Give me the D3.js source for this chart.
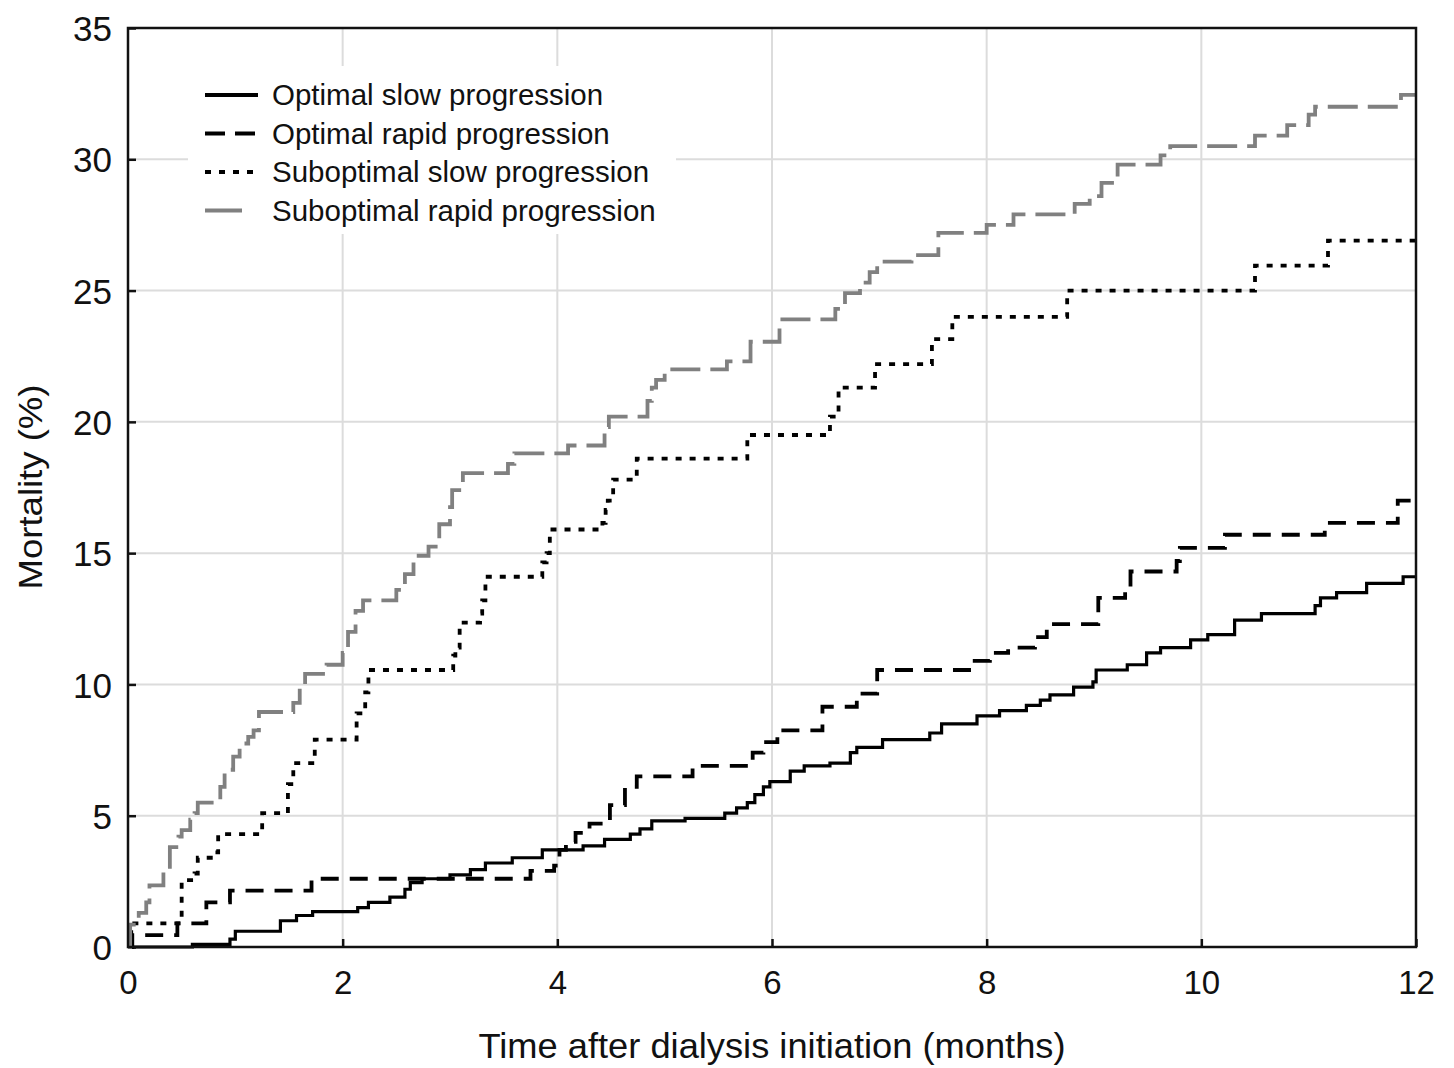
<!DOCTYPE html>
<html>
<head>
<meta charset="utf-8">
<script src="https://cdn.jsdelivr.net/npm/d3@7"></script>
<style>
  body { margin: 0; background: #fff; }
  text { font-family: "Liberation Sans", Arial, sans-serif; fill: #111; }
</style>
</head>
<body>
<svg id="chart" width="1454" height="1068"></svg>
<script>
// step data: [months, mortality %]
const optimalSlow = [[0,0],[0.6,0.1],[0.95,0.3],[1.0,0.6],[1.42,1.0],[1.57,1.2],[1.72,1.35],[2.14,1.5],[2.24,1.7],[2.44,1.9],[2.58,2.2],[2.63,2.45],[2.74,2.6],[3.0,2.75],[3.19,2.95],[3.33,3.2],[3.58,3.4],[3.86,3.7],[4.24,3.85],[4.44,4.1],[4.68,4.3],[4.77,4.5],[4.88,4.8],[5.19,4.9],[5.56,5.1],[5.67,5.3],[5.77,5.5],[5.84,5.8],[5.92,6.1],[5.98,6.3],[6.17,6.7],[6.3,6.9],[6.54,7.0],[6.73,7.4],[6.79,7.6],[7.03,7.9],[7.47,8.15],[7.58,8.5],[7.91,8.8],[8.12,9.0],[8.37,9.2],[8.5,9.4],[8.59,9.6],[8.81,9.9],[8.99,10.1],[9.02,10.55],[9.31,10.75],[9.49,11.2],[9.62,11.4],[9.9,11.7],[10.06,11.9],[10.31,12.45],[10.56,12.7],[11.06,13.0],[11.11,13.3],[11.26,13.5],[11.54,13.85],[11.88,14.1],[12,14.1]];

const optimalRapid = [[0,0],[0.04,0.45],[0.46,0.9],[0.73,1.7],[0.95,2.15],[1.71,2.6],[3.75,2.9],[3.97,3.1],[4.02,3.7],[4.08,4.0],[4.17,4.35],[4.3,4.7],[4.49,5.4],[4.63,6.1],[4.74,6.5],[5.26,6.9],[5.82,7.4],[5.92,7.8],[6.05,8.25],[6.47,9.15],[6.79,9.65],[6.98,10.55],[7.86,10.9],[8.03,11.2],[8.2,11.4],[8.45,11.8],[8.56,12.3],[9.04,13.3],[9.29,13.7],[9.34,14.3],[9.77,14.7],[9.8,15.2],[10.22,15.7],[11.15,16.15],[11.83,17.0],[11.95,17.2],[12,17.2]];

const suboptimalSlow = [[0,0],[0.03,0.9],[0.5,2.55],[0.62,2.8],[0.65,3.4],[0.8,3.6],[0.84,4.3],[1.25,5.1],[1.49,6.2],[1.54,7.0],[1.74,7.9],[2.13,8.9],[2.21,9.7],[2.24,10.55],[3.03,11.1],[3.05,11.4],[3.09,12.35],[3.28,12.7],[3.3,13.2],[3.33,14.1],[3.86,14.65],[3.9,15.0],[3.93,15.9],[4.42,16.15],[4.45,16.65],[4.47,17.0],[4.52,17.8],[4.74,18.6],[5.77,19.5],[6.54,20.2],[6.62,21.3],[6.96,22.2],[7.49,23.15],[7.68,24.0],[8.75,25.0],[10.5,25.95],[11.18,26.9],[12,26.9]];

const suboptimalRapid = [[0,0],[0.02,0.85],[0.1,1.3],[0.17,1.7],[0.2,2.35],[0.33,2.9],[0.39,3.8],[0.47,4.2],[0.5,4.45],[0.58,4.85],[0.62,5.1],[0.65,5.5],[0.86,6.1],[0.9,6.75],[0.98,7.25],[1.04,7.75],[1.12,8.0],[1.17,8.25],[1.22,8.95],[1.54,9.3],[1.6,10.0],[1.65,10.4],[1.85,10.75],[2.0,11.2],[2.05,12.0],[2.12,12.8],[2.19,13.2],[2.5,13.6],[2.58,14.2],[2.66,14.9],[2.8,15.25],[2.9,16.1],[3.0,16.75],[3.02,17.4],[3.12,18.05],[3.54,18.4],[3.6,18.8],[4.1,19.1],[4.44,19.8],[4.48,20.2],[4.84,20.8],[4.88,21.3],[4.92,21.6],[5.0,22.0],[5.58,22.3],[5.8,23.05],[6.07,23.9],[6.59,24.3],[6.68,24.9],[6.82,25.3],[6.91,25.7],[6.98,26.1],[7.3,26.35],[7.55,27.2],[8.0,27.5],[8.25,27.9],[8.82,28.3],[8.96,28.6],[9.07,29.1],[9.22,29.8],[9.62,30.15],[9.71,30.5],[10.5,30.9],[10.8,31.3],[11.0,31.7],[11.06,32.0],[11.86,32.45],[12,32.45]];

const seriesNames = ['Optimal slow progression', 'Optimal rapid progression', 'Suboptimal slow progression', 'Suboptimal rapid progression'];
const xTicks = [0, 2, 4, 6, 8, 10, 12];
const yTicks = [0, 5, 10, 15, 20, 25, 30, 35];

const svg = d3.select('#chart');
const margin = { left: 128, top: 28, right: 38, bottom: 121 };
const width = 1454 - margin.left - margin.right;
const height = 1068 - margin.top - margin.bottom;

const g = svg.append('g').attr('transform', `translate(${margin.left},${margin.top})`);

const x = d3.scaleLinear().domain([0, 12]).range([0, width]);
const y = d3.scaleLinear().domain([0, 35]).range([height, 0]);

// grid
g.append('g')
  .selectAll('line.vg')
  .data(xTicks.slice(1, -1))
  .enter().append('line')
  .attr('x1', d => x(d)).attr('x2', d => x(d))
  .attr('y1', 0).attr('y2', height)
  .attr('stroke', '#dcdcdc').attr('stroke-width', 2);

g.append('g')
  .selectAll('line.hg')
  .data(yTicks.slice(1, -1))
  .enter().append('line')
  .attr('x1', 0).attr('x2', width)
  .attr('y1', d => y(d)).attr('y2', d => y(d))
  .attr('stroke', '#dcdcdc').attr('stroke-width', 2);

// legend background hides the grid behind it
g.append('rect')
  .attr('x', 60).attr('y', 38)
  .attr('width', 488).attr('height', 168)
  .attr('fill', '#fff');

// axes
const xAxis = d3.axisBottom(x).tickValues(xTicks).tickSize(-8).tickPadding(24);
const yAxis = d3.axisLeft(y).tickValues(yTicks).tickSize(-8).tickPadding(16);

const gx = g.append('g').attr('transform', `translate(0,${height})`).call(xAxis);
gx.selectAll('text').attr('font-size', 33).style('font-family', '"Liberation Sans", Arial, sans-serif').attr('fill', '#111');
const gy = g.append('g').call(yAxis);
gy.selectAll('text').attr('font-size', 35).attr('dy', '0.36em').style('font-family', '"Liberation Sans", Arial, sans-serif').attr('fill', '#111');
[gx, gy].forEach(a => {
  a.select('.domain').remove();
  a.selectAll('.tick line').attr('stroke', '#111').attr('stroke-width', 2.5);
});

// curves
const line = d3.line()
  .x(d => x(d[0]))
  .y(d => y(d[1]))
  .curve(d3.curveStepAfter);

const styles = [
  { data: optimalSlow, color: '#000', width: 3.2, dash: null },
  { data: optimalRapid, color: '#000', width: 3.8, dash: '18,11' },
  { data: suboptimalSlow, color: '#000', width: 3.8, dash: '6,8' },
  { data: suboptimalRapid, color: '#808080', width: 3.8, dash: '30,10' }
];

styles.forEach(s => {
  g.append('path')
    .datum(s.data)
    .attr('fill', 'none')
    .attr('stroke', s.color)
    .attr('stroke-width', s.width)
    .attr('stroke-dasharray', s.dash)
    .attr('d', line);
});

// frame
g.append('rect')
  .attr('x', 0).attr('y', 0)
  .attr('width', width).attr('height', height)
  .attr('fill', 'none')
  .attr('stroke', '#111')
  .attr('stroke-width', 2.5);

// legend
const legend = g.append('g').attr('transform', 'translate(77,67)');
styles.forEach((s, i) => {
  const row = legend.append('g').attr('transform', `translate(0,${i * 38.5})`);
  row.append('line')
    .attr('x1', 0).attr('x2', i === 3 ? 37 : 53)
    .attr('y1', 0).attr('y2', 0)
    .attr('stroke', s.color)
    .attr('stroke-width', 4)
    .attr('stroke-dasharray', i === 1 ? '20,10' : (i === 2 ? '6,8' : null));
  row.append('text')
    .attr('x', 67).attr('y', 0)
    .attr('dy', '0.35em')
    .attr('font-size', 29.5)
    .text(seriesNames[i]);
});

// axis titles
svg.append('text')
  .attr('x', margin.left + width / 2)
  .attr('y', 1058)
  .attr('text-anchor', 'middle')
  .attr('font-size', 35)
  .attr('textLength', 587)
  .attr('lengthAdjust', 'spacingAndGlyphs')
  .text('Time after dialysis initiation (months)');

svg.append('text')
  .attr('transform', 'translate(42,487) rotate(-90)')
  .attr('text-anchor', 'middle')
  .attr('font-size', 34)
  .attr('textLength', 205)
  .attr('lengthAdjust', 'spacingAndGlyphs')
  .text('Mortality (%)');
</script>
</body>
</html>
